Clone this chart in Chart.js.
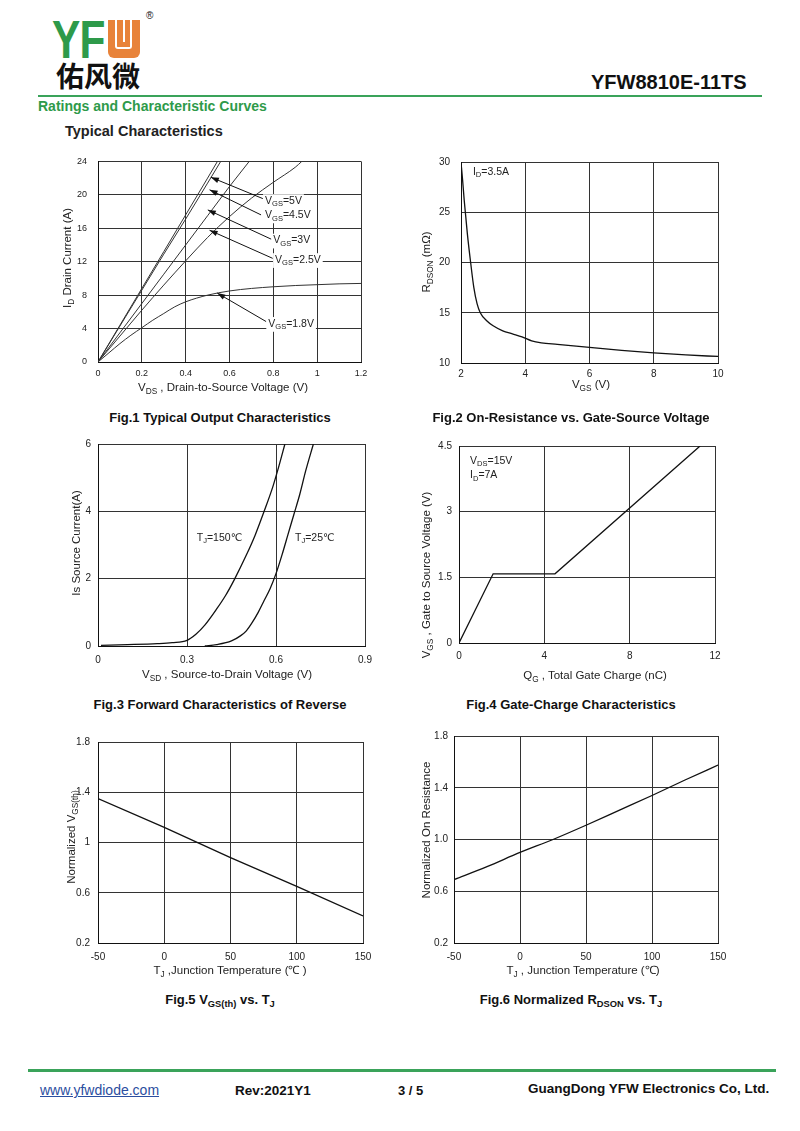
<!DOCTYPE html>
<html>
<head>
<meta charset="utf-8">
<script src="https://cdn.jsdelivr.net/npm/chart.js@4.4.1/dist/chart.umd.min.js"></script>
<style>
  body { margin: 0; width: 800px; height: 1131px; position: relative; background: #fff; overflow: hidden;
         font-family: Arial, "Liberation Sans", sans-serif; color: #111; }
  .abs { position: absolute; white-space: nowrap; line-height: 1; }
  canvas { position: absolute; }
  .cap { position: absolute; transform: translateX(-50%); font-weight: bold; font-size: 13px; white-space: nowrap; line-height: 1; }
  .ax { position: absolute; transform: translate(-50%, -50%); font-size: 11.5px; white-space: nowrap; color: #222; line-height: 1; }
  .ax.rot { transform: translate(-50%, -50%) rotate(-90deg); }
  sub { font-size: 72%; vertical-align: -0.28em; line-height: 0; }
  .green { background: #3aa35a; position: absolute; }
</style>
</head>
<body>

<!-- header -->
<div class="abs" style="left:52px;top:13px;font-size:53px;font-weight:bold;color:#2e9a4a;transform:scaleX(0.8);transform-origin:left top;letter-spacing:-1px">YF</div>
<div class="abs" style="left:108px;top:20px;width:32px;height:38px;background:#e8833a;border-radius:0 0 6px 6px">
  <div style="position:absolute;left:7px;top:0;width:13px;height:27px;border:2.5px solid #fff;border-top:none;border-radius:0 0 3px 3px"></div>
  <div style="position:absolute;left:14.7px;top:0;width:2.5px;height:22px;background:#fff"></div>
</div>
<div class="abs" style="left:146px;top:11px;font-size:10px">®</div>
<div class="abs" style="left:56px;top:61px;font-size:28px;font-weight:bold;font-family:'Noto Sans CJK SC',sans-serif">佑风微</div>
<div class="abs" style="left:591px;top:72px;font-size:20px;font-weight:bold">YFW8810E-11TS</div>
<div class="green" style="left:38px;top:94.5px;width:724px;height:2.5px"></div>
<div class="abs" style="left:38px;top:99px;font-size:14px;font-weight:bold;color:#2e9a4a">Ratings and Characteristic Curves</div>
<div class="abs" style="left:65px;top:124px;font-size:14.5px;font-weight:bold;color:#222">Typical Characteristics</div>

<canvas id="c1"></canvas>
<canvas id="c2"></canvas>
<canvas id="c3"></canvas>
<canvas id="c4"></canvas>
<canvas id="c5"></canvas>
<canvas id="c6"></canvas>

<!-- axis titles -->
<div class="ax rot" style="left:68px;top:258px">I<sub>D</sub> Drain Current (A)</div>
<div class="ax" style="left:223px;top:388px">V<sub>DS</sub> , Drain-to-Source Voltage (V)</div>
<div class="ax rot" style="left:427px;top:262px">R<sub>DSON</sub> (mΩ)</div>
<div class="ax" style="left:591px;top:385px">V<sub>GS</sub> (V)</div>
<div class="ax rot" style="left:77px;top:543px">Is Source Current(A)</div>
<div class="ax" style="left:227px;top:675px">V<sub>SD</sub> , Source-to-Drain Voltage (V)</div>
<div class="ax rot" style="left:427px;top:575px">V<sub>GS</sub> , Gate to Source Voltage (V)</div>
<div class="ax" style="left:595px;top:676px">Q<sub>G</sub> , Total Gate Charge (nC)</div>
<div class="ax rot" style="left:72px;top:837px">Normalized V<sub>GS(th)</sub></div>
<div class="ax" style="left:230px;top:971px">T<sub>J</sub> ,Junction Temperature (℃ )</div>
<div class="ax rot" style="left:427px;top:830px">Normalized On Resistance</div>
<div class="ax" style="left:583px;top:971px">T<sub>J</sub> , Junction Temperature (℃)</div>

<!-- captions -->
<div class="cap" style="left:220px;top:411px">Fig.1 Typical Output Characteristics</div>
<div class="cap" style="left:571px;top:411px">Fig.2 On-Resistance vs. Gate-Source Voltage</div>
<div class="cap" style="left:220px;top:698px">Fig.3 Forward Characteristics of Reverse</div>
<div class="cap" style="left:571px;top:698px">Fig.4 Gate-Charge Characteristics</div>
<div class="cap" style="left:220px;top:993px">Fig.5 V<sub>GS(th)</sub> vs. T<sub>J</sub></div>
<div class="cap" style="left:571px;top:993px">Fig.6 Normalized R<sub>DSON</sub> vs. T<sub>J</sub></div>

<!-- footer -->
<div class="green" style="left:28px;top:1069px;width:748px;height:2.5px"></div>
<div class="abs" style="left:40px;top:1083px;font-size:14px;color:#2b4ea0;text-decoration:underline">www.yfwdiode.com</div>
<div class="abs" style="left:235px;top:1084px;font-size:13.5px;font-weight:bold">Rev:2021Y1</div>
<div class="abs" style="left:398px;top:1084px;font-size:13px;font-weight:bold">3 / 5</div>
<div class="abs" style="left:528px;top:1082px;font-size:13.5px;font-weight:bold">GuangDong YFW Electronics Co, Ltd.</div>

<script>
// ---- Fig.1 output characteristics ----
const fig1XTicks = [0, 0.2, 0.4, 0.6, 0.8, 1.0, 1.2];
const fig1XLabels = ['0', '0.2', '0.4', '0.6', '0.8', '1', '1.2'];
const fig1YTicks = [0, 4, 8, 12, 16, 20, 24];
const fig1YLabels = ['0', '4', '8', '12', '16', '20', '24'];
const vds5 = [0, 0.1, 0.2, 0.3, 0.4, 0.5, 0.545];
const id5 = [0, 4.4, 8.8, 13.2, 17.6, 22.0, 24];
const vds45 = [0, 0.1, 0.2, 0.3, 0.4, 0.5, 0.56];
const id45 = [0, 4.3, 8.6, 12.9, 17.1, 21.4, 24];
const vds3 = [0, 0.1, 0.2, 0.3, 0.4, 0.5, 0.6, 0.69];
const id3 = [0, 3.5, 7.0, 10.5, 14.0, 17.5, 21.0, 24];
const vds25 = [0, 0.1, 0.2, 0.3, 0.4, 0.5, 0.6, 0.7, 0.8, 0.9, 0.93];
const id25 = [0, 3.1, 6.2, 9.2, 12.1, 14.9, 17.4, 19.6, 21.5, 23.3, 24];
const vds18 = [0, 0.05, 0.1, 0.15, 0.2, 0.25, 0.3, 0.35, 0.4, 0.5, 0.6, 0.7, 0.8, 0.9, 1.0, 1.1, 1.2];
const id18 = [0, 1.1, 2.2, 3.2, 4.1, 5.0, 5.8, 6.6, 7.2, 8.0, 8.5, 8.8, 9.0, 9.15, 9.25, 9.35, 9.4];

// ---- Fig.2 on-resistance vs VGS ----
const fig2XTicks = [2, 4, 6, 8, 10];
const fig2XLabels = ['2', '4', '6', '8', '10'];
const fig2YTicks = [10, 15, 20, 25, 30];
const fig2YLabels = ['10', '15', '20', '25', '30'];
const vgs2 = [2, 2.05, 2.1, 2.15, 2.2, 2.3, 2.4, 2.5, 2.6, 2.8, 3.0, 3.3, 3.6, 3.9, 4.2, 4.5, 5, 6, 7, 8, 9, 10];
const rds2 = [30, 28.2, 26.2, 24.5, 22.8, 20.0, 17.5, 15.9, 15.0, 14.2, 13.7, 13.2, 12.9, 12.6, 12.2, 12.0, 11.85, 11.55, 11.25, 11.0, 10.8, 10.65];

// ---- Fig.3 body diode forward ----
const fig3XTicks = [0, 0.3, 0.6, 0.9];
const fig3XLabels = ['0', '0.3', '0.6', '0.9'];
const fig3YTicks = [0, 2, 4, 6];
const fig3YLabels = ['0', '2', '4', '6'];
const vsd150 = [0.01, 0.1, 0.2, 0.25, 0.3, 0.33, 0.36, 0.4, 0.43, 0.46, 0.5, 0.53, 0.56, 0.59, 0.61, 0.63];
const is150 = [0.02, 0.04, 0.07, 0.1, 0.17, 0.35, 0.62, 1.1, 1.5, 1.98, 2.7, 3.3, 4.0, 4.75, 5.35, 6.0];
const vsd25 = [0.36, 0.4, 0.45, 0.48, 0.5, 0.52, 0.54, 0.56, 0.58, 0.6, 0.62, 0.64, 0.66, 0.68, 0.7, 0.726];
const is25 = [0.0, 0.04, 0.15, 0.3, 0.45, 0.7, 1.0, 1.35, 1.7, 2.15, 2.7, 3.3, 3.9, 4.5, 5.2, 6.0];

// ---- Fig.4 gate charge ----
const fig4XTicks = [0, 4, 8, 12];
const fig4XLabels = ['0', '4', '8', '12'];
const fig4YTicks = [0, 1.5, 3, 4.5];
const fig4YLabels = ['0', '1.5', '3', '4.5'];
const qg4 = [0, 1.6, 4.5, 11.3];
const vgs4 = [0, 1.58, 1.58, 4.5];

// ---- Fig.5 normalized VGS(th) vs TJ ----
const tjTicks = [-50, 0, 50, 100, 150];
const tjLabels = ['-50', '0', '50', '100', '150'];
const fig5YTicks = [0.2, 0.6, 1.0, 1.4, 1.8];
const fig5YLabels = ['0.2', '0.6', '1', '1.4', '1.8'];
const tj5 = [-50, 0, 50, 100, 150];
const vth5 = [1.35, 1.12, 0.88, 0.65, 0.415];

// ---- Fig.6 normalized RDSON vs TJ ----
const fig6YLabels = ['0.2', '0.6', '1.0', '1.4', '1.8'];
const tj6 = [-50, -25, 0, 25, 50, 75, 100, 125, 150];
const ron6 = [0.69, 0.79, 0.9, 1.0, 1.11, 1.225, 1.34, 1.46, 1.575];

const FONT = 'Arial, "Liberation Sans", "DejaVu Sans", sans-serif';
const PAD_L = 50, PAD_T = 10, PAD_R = 20, PAD_B = 30;

function pts(xs, ys) { return xs.map((x, i) => ({ x: x, y: ys[i] })); }

function drawParts(ctx, parts, x, y, size, measureOnly) {
  let cx = x;
  parts.forEach(p => {
    const sub = p[1];
    const fs = sub ? size * 0.72 : size;
    ctx.font = fs + 'px ' + FONT;
    if (!measureOnly) ctx.fillText(p[0], cx, sub ? y + size * 0.3 : y);
    cx += ctx.measureText(p[0]).width;
  });
  return cx - x;
}

const notesPlugin = {
  id: 'notes',
  beforeDatasetsDraw(chart, args, opts) {
    const ctx = chart.ctx, xs = chart.scales.x, ys = chart.scales.y;
    ctx.save();
    (opts.items || []).forEach(it => {
      if (!it.bg) return;
      const px = xs.getPixelForValue(it.at[0]), py = ys.getPixelForValue(it.at[1]);
      const w = drawParts(ctx, it.parts, px, py, it.size, true);
      ctx.fillStyle = '#fff';
      ctx.fillRect(px - 2, py - it.size * 0.65, w + 4, it.size * 1.4);
    });
    ctx.restore();
  },
  afterDatasetsDraw(chart, args, opts) {
    const ctx = chart.ctx, xs = chart.scales.x, ys = chart.scales.y;
    ctx.save();
    (opts.items || []).forEach(it => {
      if (it.arrow) {
        const x0 = xs.getPixelForValue(it.arrow[0]), y0 = ys.getPixelForValue(it.arrow[1]);
        const x1 = xs.getPixelForValue(it.arrow[2]), y1 = ys.getPixelForValue(it.arrow[3]);
        const a = Math.atan2(y1 - y0, x1 - x0);
        ctx.strokeStyle = '#111';
        ctx.lineWidth = 1;
        ctx.beginPath(); ctx.moveTo(x0, y0); ctx.lineTo(x1, y1); ctx.stroke();
        ctx.beginPath();
        ctx.moveTo(x1, y1);
        ctx.lineTo(x1 - 8 * Math.cos(a) + 2.8 * Math.sin(a), y1 - 8 * Math.sin(a) - 2.8 * Math.cos(a));
        ctx.lineTo(x1 - 8 * Math.cos(a) - 2.8 * Math.sin(a), y1 - 8 * Math.sin(a) + 2.8 * Math.cos(a));
        ctx.closePath();
        ctx.fillStyle = '#111';
        ctx.fill();
      }
      if (it.parts) {
        const px = xs.getPixelForValue(it.at[0]), py = ys.getPixelForValue(it.at[1]);
        ctx.fillStyle = '#222';
        ctx.textBaseline = 'middle';
        ctx.textAlign = 'left';
        drawParts(ctx, it.parts, px, py, it.size, false);
      }
    });
    ctx.restore();
  }
};

function axis(ticks, labels, pad, fs, horizontal) {
  return {
    type: 'linear',
    min: ticks[0],
    max: ticks[ticks.length - 1],
    afterBuildTicks: s => { s.ticks = ticks.map(v => ({ value: v })); },
    afterFit: s => { if (horizontal) s.height = PAD_B; else s.width = PAD_L; },
    ticks: { callback: (v, i) => labels[i], padding: pad, color: '#222', autoSkip: false, maxRotation: 0,
             font: { size: fs, family: FONT } },
    grid: { color: '#333', lineWidth: 1, drawTicks: false },
    border: { color: '#111', width: 1 }
  };
}

function line(data, smooth, width, color) {
  return { data: data, showLine: true, borderColor: color || '#111', borderWidth: width || 1.3,
           pointRadius: 0, fill: false, tension: 0,
           cubicInterpolationMode: smooth ? 'monotone' : 'default' };
}

function makeChart(id, box, datasets, xAxis, yAxis, notes) {
  const c = document.getElementById(id);
  const L = box[0], T = box[1], R = box[2], B = box[3];
  c.width = R - L + PAD_L + PAD_R;
  c.height = B - T + PAD_T + PAD_B;
  c.style.left = (L - PAD_L) + 'px';
  c.style.top = (T - PAD_T) + 'px';
  return new Chart(c, {
    type: 'scatter',
    data: { datasets: datasets },
    options: {
      responsive: false,
      animation: false,
      layout: { padding: { left: 0, top: PAD_T, right: PAD_R, bottom: 0 } },
      scales: { x: xAxis, y: yAxis },
      plugins: { legend: { display: false }, tooltip: { enabled: false }, notes: { items: notes || [] } }
    },
    plugins: [notesPlugin]
  });
}

// Fig.1
makeChart('c1', [98, 155, 361, 362], [
  line(pts(vds5, id5), false, 1, '#333'),
  line(pts(vds45, id45), false, 1, '#333'),
  line(pts(vds3, id3), false, 1, '#333'),
  line(pts(vds25, id25), true, 1, '#333'),
  line(pts(vds18, id18), true, 1, '#333')
], axis(fig1XTicks, fig1XLabels, 6, 9, true), axis(fig1YTicks, fig1YLabels, 11, 9, false), [
  { arrow: [0.752, 19.55, 0.515, 22.1] },
  { arrow: [0.744, 17.6, 0.509, 20.6] },
  { arrow: [0.79, 14.7, 0.501, 18.2] },
  { arrow: [0.797, 12.4, 0.509, 15.76] },
  { arrow: [0.767, 4.84, 0.544, 8.25] },
  { at: [0.762, 19.25], parts: [['V', 0], ['GS', 1], ['=5V', 0]], size: 10.5, bg: true },
  { at: [0.762, 17.54], parts: [['V', 0], ['GS', 1], ['=4.5V', 0]], size: 10.5, bg: true },
  { at: [0.80, 14.53], parts: [['V', 0], ['GS', 1], ['=3V', 0]], size: 10.5, bg: true },
  { at: [0.808, 12.2], parts: [['V', 0], ['GS', 1], ['=2.5V', 0]], size: 10.5, bg: true },
  { at: [0.777, 4.56], parts: [['V', 0], ['GS', 1], ['=1.8V', 0]], size: 10.5, bg: true }
]);

// Fig.2
makeChart('c2', [461, 155, 718, 363], [
  line(pts(vgs2, rds2), true)
], axis(fig2XTicks, fig2XLabels, 5, 10, true), axis(fig2YTicks, fig2YLabels, 11, 10, false), [
  { at: [2.37, 29.0], parts: [['I', 0], ['D', 1], ['=3.5A', 0]], size: 10.5 }
]);

// Fig.3
makeChart('c3', [98, 441, 365, 646], [
  line(pts(vsd150, is150), true),
  line(pts(vsd25, is25), true)
], axis(fig3XTicks, fig3XLabels, 8, 10, true), axis(fig3YTicks, fig3YLabels, 7, 10, false), [
  { at: [0.333, 3.2], parts: [['T', 0], ['J', 1], ['=150℃', 0]], size: 10.5 },
  { at: [0.664, 3.2], parts: [['T', 0], ['J', 1], ['=25℃', 0]], size: 10.5 }
]);

// Fig.4
makeChart('c4', [459, 443, 715, 643], [
  line(pts(qg4, vgs4), false)
], axis(fig4XTicks, fig4XLabels, 7, 10, true), axis(fig4YTicks, fig4YLabels, 7, 10, false), [
  { at: [0.516, 4.16], parts: [['V', 0], ['DS', 1], ['=15V', 0]], size: 10.5 },
  { at: [0.516, 3.83], parts: [['I', 0], ['D', 1], ['=7A', 0]], size: 10.5 }
]);

// Fig.5
makeChart('c5', [98, 738, 363, 943], [
  line(pts(tj5, vth5), false)
], axis(tjTicks, tjLabels, 8, 10, true), axis(fig5YTicks, fig5YLabels, 8, 10, false));

// Fig.6
makeChart('c6', [454, 734, 718, 943], [
  line(pts(tj6, ron6), true)
], axis(tjTicks, tjLabels, 8, 10, true), axis(fig5YTicks, fig6YLabels, 6, 10, false));
</script>
</body>
</html>
